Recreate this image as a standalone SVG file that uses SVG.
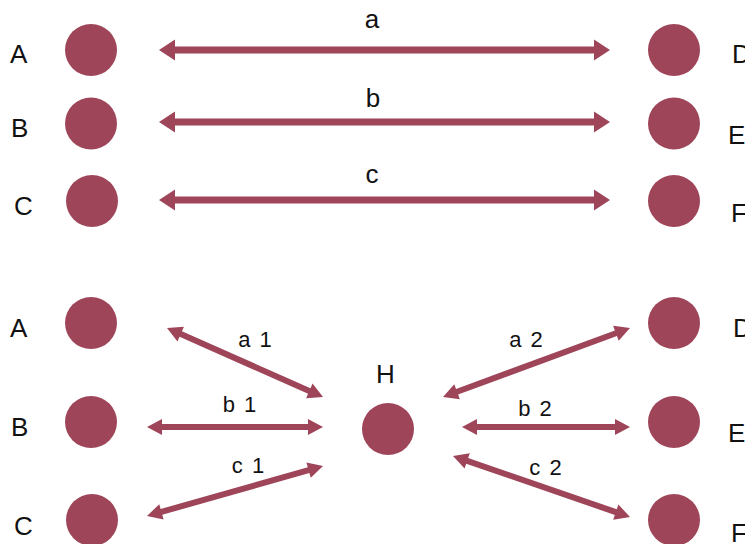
<svg xmlns="http://www.w3.org/2000/svg" width="745" height="544" viewBox="0 0 745 544">
<style>
.node circle{fill:#9e4559}
.lbl{font-family:"Liberation Sans",Arial,sans-serif;font-size:26px;fill:#111}
.elbl{font-family:"Liberation Sans",Arial,sans-serif;fill:#111;text-anchor:middle}
.top{font-size:26px}
.bot{font-size:22px;word-spacing:3px}
.conn polygon{fill:#9e4559}
</style>
<rect width="745" height="544" fill="#fff"/>
<g id="top-A" class="node"><circle cx="91" cy="50" r="26"/><text class="lbl" x="10" y="63">A</text></g>
<g id="top-B" class="node"><circle cx="91" cy="123.5" r="26"/><text class="lbl" x="11" y="137">B</text></g>
<g id="top-C" class="node"><circle cx="92" cy="201" r="26"/><text class="lbl" x="14" y="215">C</text></g>
<g id="top-D" class="node"><circle cx="674" cy="50" r="26"/><text class="lbl" x="732" y="63">D</text></g>
<g id="top-E" class="node"><circle cx="674" cy="123.5" r="26"/><text class="lbl" x="728" y="144">E</text></g>
<g id="top-F" class="node"><circle cx="674" cy="201" r="26"/><text class="lbl" x="731" y="222">F</text></g>
<g id="bot-A" class="node"><circle cx="91" cy="323" r="26"/><text class="lbl" x="10" y="337">A</text></g>
<g id="bot-B" class="node"><circle cx="91" cy="422" r="26"/><text class="lbl" x="11" y="436">B</text></g>
<g id="bot-C" class="node"><circle cx="92" cy="520" r="26"/><text class="lbl" x="14" y="535">C</text></g>
<g id="bot-H" class="node"><circle cx="388" cy="429" r="26"/><text class="lbl" x="376" y="383">H</text></g>
<g id="bot-D" class="node"><circle cx="674" cy="323" r="26"/><text class="lbl" x="733" y="337">D</text></g>
<g id="bot-E" class="node"><circle cx="674" cy="422" r="26"/><text class="lbl" x="728" y="442">E</text></g>
<g id="bot-F" class="node"><circle cx="674" cy="520" r="26"/><text class="lbl" x="731" y="542">F</text></g>
<g id="connectors" class="conn">
<g transform="translate(159 50)"><polygon points="0,0 16,-10.5 16,-3.5 435,-3.5 435,-10.5 451,0 435,10.5 435,3.5 16,3.5 16,10.5"/></g>
<g transform="translate(159 122)"><polygon points="0,0 16,-10.5 16,-3.5 435,-3.5 435,-10.5 451,0 435,10.5 435,3.5 16,3.5 16,10.5"/></g>
<g transform="translate(159 200)"><polygon points="0,0 16,-10.5 16,-3.5 435,-3.5 435,-10.5 451,0 435,10.5 435,3.5 16,3.5 16,10.5"/></g>
<g transform="translate(167 328) rotate(23.86)"><polygon points="0,0 15,-8 15,-3 155.6,-3 155.6,-8 170.6,0 155.6,8 155.6,3 15,3 15,8"/></g>
<g transform="translate(147 427)"><polygon points="0,0 15,-8 15,-3 161,-3 161,-8 176,0 161,8 161,3 15,3 15,8"/></g>
<g transform="translate(147 516) rotate(-15.86)"><polygon points="0,0 15,-8 15,-3 168,-3 168,-8 183,0 168,8 168,3 15,3 15,8"/></g>
<g transform="translate(443 397) rotate(-20.25)"><polygon points="0,0 15,-8 15,-3 184.3,-3 184.3,-8 199.3,0 184.3,8 184.3,3 15,3 15,8"/></g>
<g transform="translate(462 427)"><polygon points="0,0 15,-8 15,-3 153,-3 153,-8 168,0 153,8 153,3 15,3 15,8"/></g>
<g transform="translate(453 456) rotate(19.01)"><polygon points="0,0 15,-8 15,-3 172.2,-3 172.2,-8 187.2,0 172.2,8 172.2,3 15,3 15,8"/></g>
<text class="elbl top" x="372" y="28">a</text>
<text class="elbl top" x="373" y="107">b</text>
<text class="elbl top" x="372" y="183">c</text>
<text class="elbl bot" x="255" y="347">a 1</text>
<text class="elbl bot" x="239.5" y="412">b 1</text>
<text class="elbl bot" x="248" y="473">c 1</text>
<text class="elbl bot" x="526" y="347">a 2</text>
<text class="elbl bot" x="535" y="416">b 2</text>
<text class="elbl bot" x="545.5" y="475">c 2</text>
</g>
</svg>
